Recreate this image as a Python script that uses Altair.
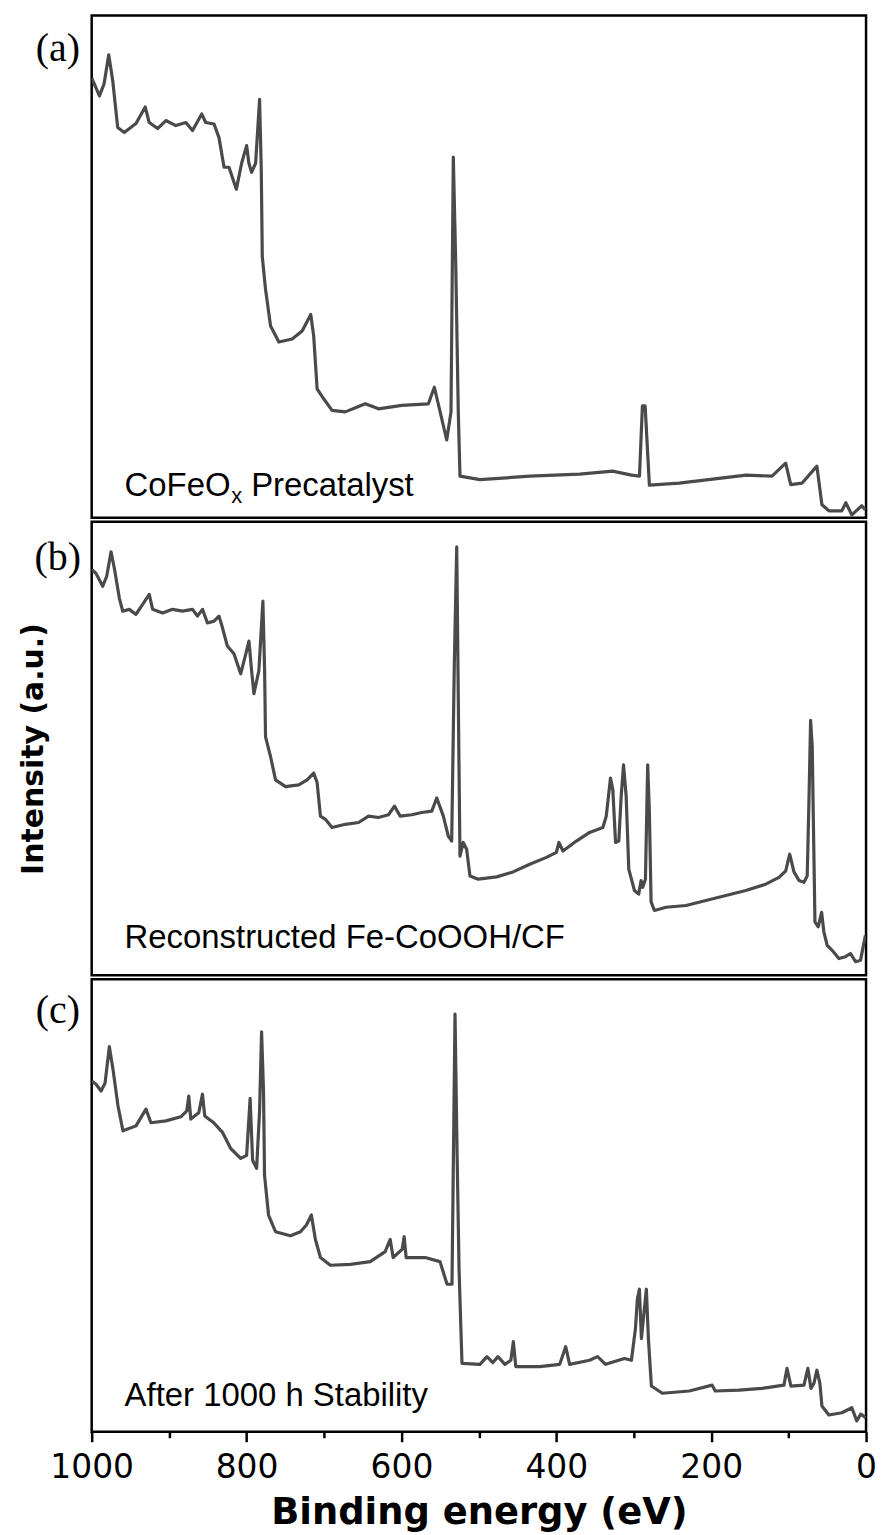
import altair as alt
import pandas as pd

# ---- data (binding energy in eV, intensity in a.u.) ----
a_ev = [1000, 990, 984, 978, 972.8, 966.4, 957.9, 942.8, 930.9, 925.7, 914.9, 904.2, 891.3, 878.4, 869.8,
        857.9, 852.7, 842, 835.6, 829.1, 822.7, 813.2, 806.4, 799.9, 797, 793.5, 788.3, 783.2, 781, 779.7,
        775.5, 769, 758.3, 741.1, 728.2, 717.1, 713.3, 708.9, 700.4, 689.6, 672.5, 646.7, 629.6, 599.5, 565.2,
        557.5, 541.5, 536, 533, 529.9, 526.6, 524.4, 498.6, 434.3, 369.9, 327.4, 302.9, 292.6, 288.8, 285.3,
        279.8, 241.2, 154.9, 121.4, 103.8, 97.3, 82.8, 63.5, 57, 48, 31.3, 26.1, 18.4, 5.5, 1]
a_int = [87.6, 84.0, 86.4, 92.2, 87.0, 77.7, 76.7, 78.5, 81.8, 78.7, 77.5, 79.1, 78.1, 78.7, 77.1,
         80.4, 78.7, 78.4, 75.7, 69.8, 69.8, 65.4, 70.6, 74.1, 70.6, 68.8, 70.6, 83.3, 69.2, 52.0,
         45.5, 38.2, 35.0, 35.6, 37.2, 40.5, 36.2, 25.7, 23.7, 21.4, 21.1, 22.7, 21.7, 22.4, 22.7,
         26.0, 15.5, 21.1, 71.8, 50.8, 21.1, 8.3, 7.6, 8.3, 8.7, 9.3, 8.5, 8.3, 22.3, 22.3,
         6.5, 6.9, 8.5, 8.3, 10.9, 6.6, 6.9, 10.3, 2.6, 1.4, 1.4, 3.0, 0.6, 2.4, 1.6]

b_ev = [1000, 994.4, 985.7, 980.6, 975, 970.8, 964.3, 960, 951.5, 942.8,
        934.2, 925.7, 921.3, 908.5, 895.6, 882.7, 869.8, 863.4, 856.9, 850.5,
        842, 835.6, 831.2, 824.8, 816.3, 807.6, 802.1, 796.9, 793.5, 790.5,
        784.1, 778.9, 776.7, 775.5, 769, 762.6, 749.7, 732.6, 721.8, 713.3,
        708.9, 704.6, 698.2, 689.6, 672.5, 655.3, 642.5, 629.6, 616.7, 609,
        601.6, 586.6, 573.7, 560.8, 554.4, 545.9, 539.5, 535.1, 531.7, 528.6,
        526.6, 524.4, 520.2, 515.8, 511.5, 500.8, 477.1, 455.8, 434.3, 412.8,
        399.9, 396.6, 391.4, 374.1, 357, 339.9, 335.5, 330, 327, 323.5,
        319.3, 316.2, 313.2, 309.8, 306.4, 299.1, 293.6, 290.5, 288.4, 284.9,
        282, 279.8, 277.6, 273.3, 258.3, 232.5, 206.8, 181, 155.3, 129.5,
        112.4, 103.8, 98.6, 93.1, 86.6, 80.2, 76, 73.8, 71.6, 69.5,
        68.2, 66, 61.8, 57.4, 54.5, 50.2, 43.8, 35.1, 26.5, 20.1,
        13.6, 7.2, 0.8]
b_int = [89.5, 88.6, 85.8, 88.0, 93.4, 89.8, 83.2, 80.3, 80.7, 79.6,
         81.8, 84.0, 80.7, 79.9, 80.7, 80.3, 80.7, 79.2, 80.7, 77.7,
         78.1, 79.2, 76.7, 72.6, 70.9, 66.5, 70.1, 73.7, 67.2, 62.1,
         67.2, 82.5, 67.2, 52.6, 48.2, 43.1, 41.6, 42.0, 43.1, 44.6,
         42.5, 35.1, 34.4, 32.6, 33.3, 33.7, 35.1, 34.8, 35.4, 37.3,
         35.1, 35.4, 35.9, 36.2, 39.1, 35.1, 30.7, 29.6, 68.7, 94.5,
         61.3, 26.3, 29.3, 27.8, 21.9, 21.2, 21.7, 22.8, 24.5, 26.0,
         27.1, 29.3, 27.4, 29.6, 31.5, 32.6, 35.1, 43.5, 40.9, 29.3,
         29.6, 39.5, 46.4, 39.5, 23.4, 18.7, 17.9, 20.9, 19.4, 21.2,
         46.4, 35.9, 16.2, 14.3, 15.0, 15.4, 16.5, 17.6, 18.7, 20.1,
         21.6, 23.0, 26.7, 22.8, 20.9, 20.5, 21.9, 38.0, 56.2, 50.4,
         35.9, 11.8, 10.7, 13.9, 9.6, 6.6, 5.5, 3.7, 4.1, 4.8,
         3.0, 3.3, 8.8]

c_ev = [1000, 994.4, 987.9, 982.8, 977.2, 972.5, 966, 959.6, 942.8, 929.9,
        923.5, 904.2, 884.9, 877.2, 874.6, 872, 861.7, 857, 854, 842.4,
        830.8, 820.5, 807.6, 799.9, 795.4, 792.2, 787, 783.2, 780.6, 778.1,
        776.8, 771.6, 762.6, 743.3, 730.4, 722.7, 716.3, 711.1, 704.6, 691.8,
        666, 640.3, 621, 614.5, 610.7, 599.1, 596.5, 593.9, 569.5, 550.2,
        541.1, 534.7, 530.8, 528.2, 525.6, 521.8, 498.6, 489.6, 481.9, 475.4,
        466.4, 458.7, 455.5, 452.3, 421.4, 395.6, 387.9, 382.8, 357, 346.7,
        336.4, 312, 303, 297.8, 295.3, 292.7, 290.1, 286.3, 283.7, 281.1,
        277.2, 263.1, 228.3, 198.7, 194.8, 163.9, 134.3, 106, 102.1, 97,
        80.2, 75.1, 71.2, 67.3, 63.5, 59.6, 57, 48, 31.3, 18.4,
        12, 6.8, 0.4]
c_int = [77.5, 76.8, 75.3, 77.0, 85.1, 80.1, 72.0, 66.5, 67.6, 71.3,
         68.3, 68.7, 69.6, 70.9, 74.2, 69.1, 70.5, 74.6, 69.8, 68.3,
         66.1, 62.6, 60.4, 61.1, 73.7, 60.0, 58.2, 70.9, 88.4, 75.3,
         56.7, 47.9, 44.2, 43.3, 44.2, 45.7, 47.9, 42.5, 38.5, 36.8,
         37.0, 37.6, 39.8, 42.5, 38.5, 40.3, 43.1, 38.5, 38.5, 37.6,
         32.6, 32.6, 92.3, 62.1, 35.9, 15.1, 14.9, 16.6, 15.3, 16.6,
         14.9, 15.8, 19.9, 14.4, 14.4, 14.9, 18.8, 14.9, 15.8, 16.6,
         14.9, 16.2, 15.8, 22.8, 29.3, 31.5, 20.6, 27.1, 31.5, 20.6,
         10.1, 8.5, 9.0, 10.3, 9.0, 9.2, 9.6, 10.3, 14.0, 10.1,
         10.3, 14.0, 9.6, 10.7, 13.6, 10.7, 5.7, 3.7, 4.2, 5.3,
         2.4, 3.9, 3.1]

panel_tags = ["(a)", "(b)", "(c)"]
sample_names = [["CoFeO", "x", "Precatalyst"], ["Reconstructed Fe-CoOOH/CF"], ["After 1000 h Stability"]]
x_ticks = [1000, 900, 800, 700, 600, 500, 400, 300, 200, 100, 0]

W = 777
LINE_COLOR = "#4a4a4a"
XSCALE = alt.Scale(domain=[0, 1000], reverse=True, nice=False, zero=False)
YSCALE = alt.Scale(domain=[0, 100], nice=False, zero=False)


def text_layer(txt, x, y, size, font="Liberation Sans", align="left"):
    return alt.Chart(pd.DataFrame({"t": [txt]})).mark_text(
        font=font, fontSize=size, align=align, baseline="alphabetic", color="black"
    ).encode(text="t:N", x=alt.value(x), y=alt.value(y))


def panel(ev, inten, h, tag, tag_y, texts, x_axis, y_axis):
    assert len(ev) == len(inten)
    df = pd.DataFrame({"ev": ev, "inten": inten})
    line = alt.Chart(df).mark_line(color=LINE_COLOR, strokeWidth=3.2, clip=True,
                                   strokeJoin="round").encode(
        x=alt.X("ev:Q", scale=XSCALE, axis=x_axis),
        y=alt.Y("inten:Q", scale=YSCALE, axis=y_axis),
    )
    layers = [line, text_layer(tag, -34, tag_y, 40, font="Liberation Serif", align="center")]
    for (txt, x, y, size) in texts:
        layers.append(text_layer(txt, x, y, size))
    return alt.layer(*layers).properties(width=W, height=h)


x_axis_c = alt.Axis(
    values=x_ticks, format="d",
    labelExpr="datum.value % 200 === 0 ? datum.label : ''",
    tickSize={"condition": {"test": "datum.value % 200 === 0", "value": 10}, "value": 6},
    tickWidth=2.5, tickColor="black",
    labelFont="DejaVu Sans", labelFontSize=33, labelColor="black", labelPadding=10,
    labelFlush=False, labelOverlap=False,
    domain=False, grid=False,
    title="Binding energy (eV)", titleFont="DejaVu Sans", titleFontWeight="bold",
    titleFontSize=37, titleColor="black", titlePadding=10,
)
y_axis_b = alt.Axis(
    title="Intensity (a.u.)", labels=False, ticks=False, domain=False, grid=False,
    titleFont="DejaVu Sans", titleFontSize=30, titleFontWeight="bold", titleColor="black",
    titlePadding=43,
)

pa = panel(a_ev, a_int, 504, panel_tags[0], 46,
           [(sample_names[0][0], 33, 482, 33), (sample_names[0][1], 140, 489, 22),
            (sample_names[0][2], 160, 482, 33)], None, None)
pb = panel(b_ev, b_int, 455, panel_tags[1], 48,
           [(sample_names[1][0], 33, 428, 33)], None, y_axis_b)
pc = panel(c_ev, c_int, 454, panel_tags[2], 44,
           [(sample_names[2][0], 33, 428, 33)], x_axis_c, None)

chart = alt.vconcat(pa, pb, pc, spacing=0).properties(
    padding={"left": 17, "right": 4, "top": 11, "bottom": 2},
    background="white",
).configure_view(stroke="black", strokeWidth=2.5)

chart.save("out.html", embed_options={"renderer": "svg", "actions": False})
